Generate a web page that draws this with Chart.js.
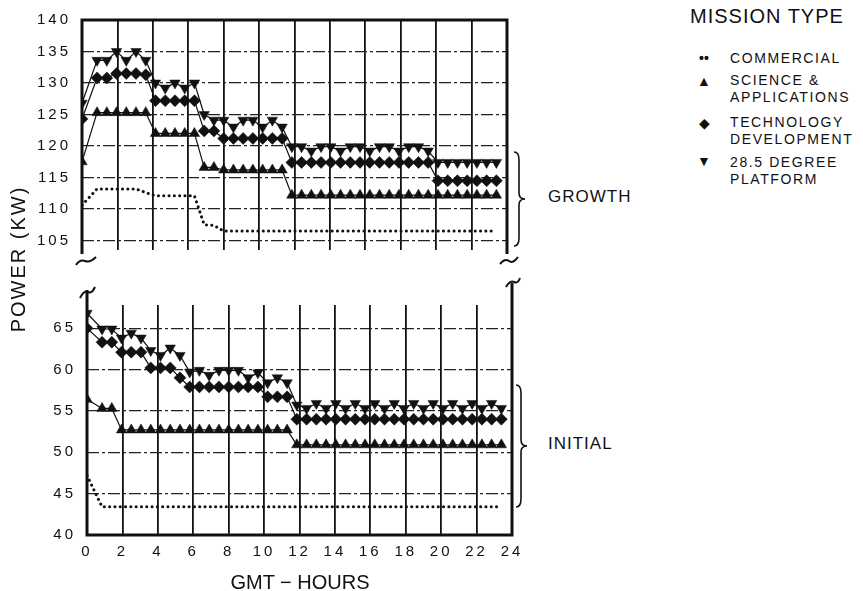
<!DOCTYPE html>
<html>
<head>
<meta charset="utf-8">
<script src="https://cdn.jsdelivr.net/npm/chart.js@4.4.1/dist/chart.umd.min.js"></script>
<style>
  html, body { margin: 0; padding: 0; background: #fff; }
  body { width: 863px; height: 591px; position: relative; overflow: hidden;
         font-family: 'Liberation Sans', Arial, sans-serif; color: #111; }
  .panel { position: absolute; left: 0; }
  #growthWrap { top: 0; }
  #initialWrap { top: 280px; }
  .txt { position: absolute; white-space: nowrap; line-height: 1; }
  #yTitle { left: -82px; top: 249px; width: 200px; text-align: center; font-size: 20px;
            letter-spacing: 2px; transform: rotate(-90deg); }
  #xTitle { left: 200px; top: 572px; width: 200px; text-align: center; font-size: 20px; }
  .group { font-size: 17px; letter-spacing: 1px; }
  .legTitle { font-size: 20px; letter-spacing: 1px; }
  .legText { font-size: 14px; letter-spacing: 1.6px; line-height: 17px; }
  .legSym { font-size: 14px; width: 20px; text-align: center; }
  svg { position: absolute; left: 0; top: 0; }
</style>
</head>
<body>
<canvas id="growthChart" class="panel" width="530" height="270"></canvas>
<canvas id="initialChart" class="panel" width="530" height="300" style="top:280px"></canvas>

<div id="yTitle" class="txt">POWER (KW)</div>
<div id="xTitle" class="txt">GMT &minus; HOURS</div>
<div class="txt group" style="left:548px; top:188px">GROWTH</div>
<div class="txt group" style="left:548px; top:435px">INITIAL</div>

<div class="txt legTitle" style="left:690px; top:6px">MISSION TYPE</div>
<div class="txt legSym" style="left:694px; top:51px"><b>&bull;&bull;</b></div>
<div class="txt legText" style="left:730px; top:50px">COMMERCIAL</div>
<div class="txt legSym" style="left:694px; top:74px">&#9650;</div>
<div class="txt legText" style="left:730px; top:72px">SCIENCE &amp;<br>APPLICATIONS</div>
<div class="txt legSym" style="left:694px; top:116px">&#9670;</div>
<div class="txt legText" style="left:730px; top:114px">TECHNOLOGY<br>DEVELOPMENT</div>
<div class="txt legSym" style="left:694px; top:154px">&#9660;</div>
<div class="txt legText" style="left:730px; top:154px">28.5 DEGREE<br>PLATFORM</div>

<svg width="863" height="591" fill="none" stroke="#111" stroke-width="1.6">
  <path d="M514 152 Q519 152 519 160 L519 193 Q519 199 525 199 Q519 199 519 205 L519 238 Q519 246 514 246"/>
  <path d="M516 385 Q521 385 521 393 L521 440 Q521 446 527 446 Q521 446 521 452 L521 499 Q521 507 516 507"/>
  <path d="M76 265 Q80 259 85 261 T96 257" stroke-width="2"/>
  <path d="M80 298 Q84 290 88 292 T95 287" stroke-width="2"/>
  <path d="M500 264 Q505 258 509 261 T518 257" stroke-width="2"/>
  <path d="M506 287 Q510 280 514 282 T520 278" stroke-width="2"/>
</svg>

<script>
// hours of each reading (GMT)
const hours = [0, 0.85, 1.4, 1.95, 2.5, 3.05, 3.6, 4.15, 4.7, 5.25, 5.8, 6.35, 6.9, 7.45,
  8.0, 8.55, 9.1, 9.65, 10.2, 10.75, 11.3, 11.85, 12.4, 12.95, 13.5, 14.05, 14.6, 15.15,
  15.7, 16.25, 16.8, 17.35, 17.9, 18.45, 19.0, 19.55, 20.1, 20.65, 21.2, 21.75, 22.3, 22.85, 23.4];
const hourTicks = [0, 2, 4, 6, 8, 10, 12, 14, 16, 18, 20, 22, 24];
const growthTicks = [105, 110, 115, 120, 125, 130, 135, 140];
const initialTicks = [40, 45, 50, 55, 60, 65];

// GROWTH (upper panel), kW
const growthCommercial = [110.6, 113.2, 113.2, 113.2, 113.2, 113.2, 112.6, 112.1, 112.1, 112.1,
  112.1, 112.1, 107.5, 107.4, 106.5, 106.5, 106.5, 106.5, 106.5, 106.5, 106.5, 106.5, 106.5,
  106.5, 106.5, 106.5, 106.5, 106.5, 106.5, 106.5, 106.5, 106.5, 106.5, 106.5, 106.5, 106.5,
  106.5, 106.5, 106.5, 106.5, 106.5, 106.5, 106.5];
const growthScience = [117.5, 125.3, 125.3, 125.3, 125.3, 125.3, 125.3, 122.0, 122.0, 122.0,
  122.0, 122.0, 116.6, 116.6, 116.2, 116.2, 116.2, 116.2, 116.2, 116.2, 116.2, 112.2, 112.2,
  112.2, 112.2, 112.2, 112.2, 112.2, 112.2, 112.2, 112.2, 112.2, 112.2, 112.2, 112.2, 112.2,
  112.2, 112.2, 112.2, 112.2, 112.2, 112.2, 112.2];
const growthTechnology = [124.3, 130.8, 130.8, 131.5, 131.5, 131.5, 131.3, 127.2, 127.2, 127.2,
  127.2, 127.2, 122.4, 122.4, 121.2, 121.2, 121.2, 121.2, 121.2, 121.2, 121.2, 117.4, 117.4,
  117.4, 117.4, 117.4, 117.4, 117.4, 117.4, 117.4, 117.4, 117.4, 117.4, 117.4, 117.4, 117.4,
  114.5, 114.5, 114.5, 114.5, 114.5, 114.5, 114.5];
const growthPlatform = [126.8, 133.6, 133.6, 135.0, 133.6, 135.0, 133.6, 130.0, 129.2, 130.0,
  129.2, 130.0, 125.0, 124.1, 124.1, 123.0, 124.1, 124.1, 123.0, 124.1, 123.0, 119.9, 119.9,
  119.2, 119.9, 119.9, 119.2, 119.9, 119.9, 119.2, 119.9, 119.9, 119.2, 119.9, 119.9, 119.2,
  117.4, 117.4, 117.4, 117.4, 117.4, 117.4, 117.4];

// INITIAL (lower panel), kW
const initialCommercial = [47.2, 43.4, 43.4, 43.4, 43.4, 43.4, 43.4, 43.4, 43.4, 43.4, 43.4,
  43.4, 43.4, 43.4, 43.4, 43.4, 43.4, 43.4, 43.4, 43.4, 43.4, 43.4, 43.4, 43.4, 43.4, 43.4,
  43.4, 43.4, 43.4, 43.4, 43.4, 43.4, 43.4, 43.4, 43.4, 43.4, 43.4, 43.4, 43.4, 43.4, 43.4,
  43.4, 43.4];
const initialScience = [56.4, 55.3, 55.3, 52.7, 52.7, 52.7, 52.7, 52.7, 52.7, 52.7, 52.7,
  52.7, 52.7, 52.7, 52.7, 52.7, 52.7, 52.7, 52.7, 52.7, 52.7, 50.9, 50.9, 50.9, 50.9, 50.9,
  50.9, 50.9, 50.9, 50.9, 50.9, 50.9, 50.9, 50.9, 50.9, 50.9, 50.9, 50.9, 50.9, 50.9, 50.9,
  50.9, 50.9];
const initialTechnology = [65.0, 63.3, 63.3, 62.1, 62.1, 62.1, 60.2, 60.2, 60.2, 59.0, 57.9,
  57.9, 57.9, 57.9, 57.9, 57.9, 57.9, 57.9, 56.7, 56.7, 56.7, 54.0, 54.0, 54.0, 54.0, 54.0,
  54.0, 54.0, 54.0, 54.0, 54.0, 54.0, 54.0, 54.0, 54.0, 54.0, 54.0, 54.0, 54.0, 54.0, 54.0,
  54.0, 54.0];
const initialPlatform = [66.8, 64.9, 64.9, 63.8, 64.4, 63.8, 62.3, 61.7, 62.6, 61.7, 59.7,
  59.9, 59.3, 59.9, 59.9, 59.9, 59.0, 59.6, 58.4, 59.0, 58.4, 55.7, 55.3, 55.9, 55.3, 55.9,
  55.3, 55.9, 55.3, 55.9, 55.3, 55.9, 55.3, 55.9, 55.3, 55.9, 55.3, 55.9, 55.3, 55.9, 55.3,
  55.9, 55.3];

const ink = '#111';
const tickFont = { family: "'Liberation Sans', Arial, sans-serif", size: 15 };

function pairs(values) {
  return values.map((v, i) => ({ x: hours[i], y: v }));
}

function marker(label, values, style, rotation) {
  return {
    label: label,
    data: pairs(values),
    borderColor: ink,
    borderWidth: 1.2,
    fill: false,
    tension: 0,
    pointStyle: style,
    pointRotation: rotation,
    pointRadius: 6,
    pointBackgroundColor: ink,
    pointBorderColor: ink,
    pointBorderWidth: 0.5
  };
}

function makeSets(commercial, science, technology, platform) {
  return [
    {
      label: 'COMMERCIAL',
      data: pairs(commercial),
      borderColor: ink,
      borderWidth: 3,
      borderDash: [0.1, 5.2],
      borderCapStyle: 'round',
      pointRadius: 0,
      fill: false,
      tension: 0
    },
    marker('SCIENCE & APPLICATIONS', science, 'triangle', 0),
    marker('TECHNOLOGY DEVELOPMENT', technology, 'rectRot', 0),
    marker('28.5 DEGREE PLATFORM', platform, 'triangle', 180)
  ];
}

// heavy frame lines around each panel (the axis is broken between them)
const framePlugin = {
  id: 'frame',
  beforeDraw(chart) {
    chart.ctx.letterSpacing = '3px';
  },
  beforeDatasetsDraw(chart, args, opts) {
    const { ctx, chartArea: a } = chart;
    ctx.save();
    ctx.strokeStyle = ink;
    ctx.lineWidth = 3;
    ctx.beginPath();
    if (opts.top) {
      ctx.moveTo(a.left, a.bottom + 4); ctx.lineTo(a.left, a.top);
      ctx.lineTo(a.right, a.top); ctx.lineTo(a.right, a.bottom + 4);
    } else {
      ctx.moveTo(a.left, a.top - 15); ctx.lineTo(a.left, a.bottom);
      ctx.lineTo(a.right, a.bottom); ctx.lineTo(a.right, a.top - 22);
    }
    ctx.stroke();
    ctx.restore();
  }
};

function panelOptions(yMin, yMax, yTicks, yWidth, showHours, xHeight, pad, isTop) {
  return {
    responsive: false,
    animation: false,
    layout: { padding: pad },
    plugins: {
      legend: { display: false },
      tooltip: { enabled: false },
      frame: { top: isTop }
    },
    scales: {
      x: {
        type: 'linear',
        min: 0,
        max: 24,
        afterBuildTicks: s => { s.ticks = hourTicks.map(v => ({ value: v })); },
        afterFit: s => { s.height = xHeight; },
        grid: { color: ink, lineWidth: 1.8, drawTicks: false },
        border: { display: false },
        ticks: { display: showHours, padding: 8, color: ink, font: tickFont, maxRotation: 0 }
      },
      y: {
        min: yMin,
        max: yMax,
        afterBuildTicks: s => { s.ticks = yTicks.map(v => ({ value: v })); },
        afterFit: s => { s.width = yWidth; },
        grid: { color: '#222', lineWidth: 1.2, drawTicks: false, borderDash: [12, 3, 3, 3] },
        border: { display: false, dash: [12, 3, 3, 3] },
        ticks: { padding: 11, color: ink, font: tickFont }
      }
    }
  };
}

const growthCtx = document.getElementById('growthChart').getContext('2d');
const growthChart = new Chart(growthCtx, {
  type: 'line',
  data: { datasets: makeSets(growthCommercial, growthScience, growthTechnology, growthPlatform) },
  options: panelOptions(103.5, 140, growthTicks, 82, false, 12,
    { top: 20, right: 23, left: 0, bottom: 0 }, true),
  plugins: [framePlugin]
});

const initialCtx = document.getElementById('initialChart').getContext('2d');
const initialChart = new Chart(initialCtx, {
  type: 'line',
  data: { datasets: makeSets(initialCommercial, initialScience, initialTechnology, initialPlatform) },
  options: panelOptions(40, 67.8, initialTicks, 87, true, 45,
    { top: 25, right: 18, left: 0, bottom: 0 }, false),
  plugins: [framePlugin]
});
</script>
</body>
</html>
